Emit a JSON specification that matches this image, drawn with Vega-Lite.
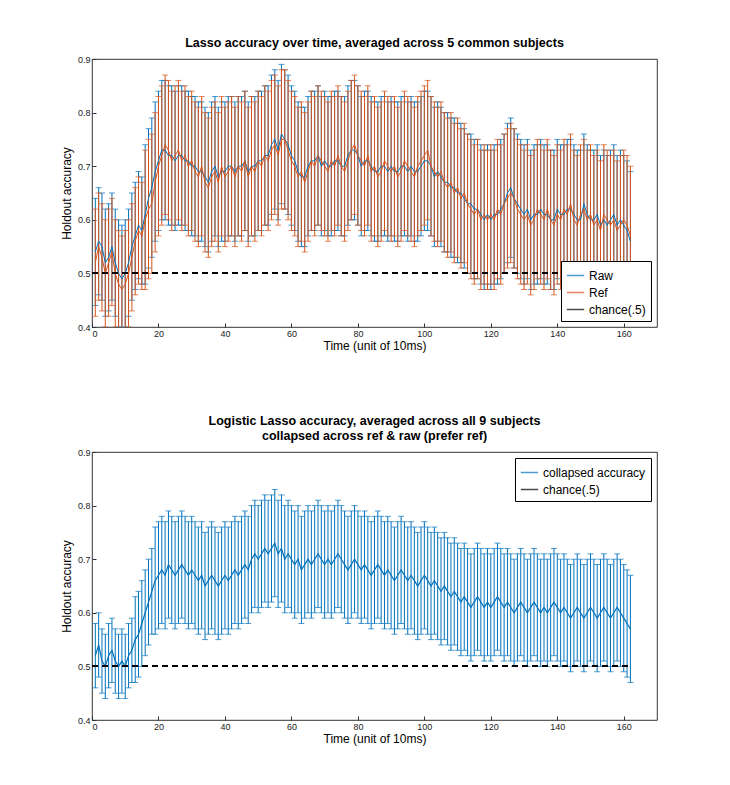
{
  "$schema": "https://vega.github.io/schema/vega-lite/v6.json",
  "padding": {"left": 60, "top": 36, "right": 5, "bottom": 5},
  "background": "white",
  "config": {
    "font": "Liberation Sans",
    "view": {"stroke": "black", "strokeWidth": 0.8},
    "axis": {"grid": false, "domain": false, "tickColor": "#333", "labelFontSize": 9, "titleFontSize": 12, "titleFontWeight": "normal", "labelColor": "#222", "tickSize": -4, "labelPadding": 6},
    "title": {"fontSize": 12.5, "fontWeight": "bold", "offset": 6},
    "legend": {"strokeColor": "black", "fillColor": "white", "padding": 5, "labelFontSize": 12, "symbolType": "stroke", "symbolSize": 300, "rowPadding": 1, "title": null, "offset": 6}
  },
  "spacing": 62,
  "datasets": {
    "acc": [
      {"t":1,"raw":0.54,"ref":0.52,"e":0.1,"c":0.52,"ce":0.06},
      {"t":2,"raw":0.56,"ref":0.55,"e":0.1,"c":0.54,"ce":0.06},
      {"t":3,"raw":0.55,"ref":0.53,"e":0.1,"c":0.51,"ce":0.06},
      {"t":4,"raw":0.52,"ref":0.50,"e":0.1,"c":0.50,"ce":0.06},
      {"t":5,"raw":0.53,"ref":0.52,"e":0.1,"c":0.52,"ce":0.06},
      {"t":6,"raw":0.55,"ref":0.54,"e":0.1,"c":0.53,"ce":0.06},
      {"t":7,"raw":0.52,"ref":0.50,"e":0.1,"c":0.51,"ce":0.06},
      {"t":8,"raw":0.50,"ref":0.48,"e":0.1,"c":0.50,"ce":0.06},
      {"t":9,"raw":0.49,"ref":0.47,"e":0.1,"c":0.51,"ce":0.06},
      {"t":10,"raw":0.50,"ref":0.48,"e":0.1,"c":0.50,"ce":0.06},
      {"t":11,"raw":0.52,"ref":0.50,"e":0.1,"c":0.52,"ce":0.06},
      {"t":12,"raw":0.55,"ref":0.53,"e":0.1,"c":0.53,"ce":0.06},
      {"t":13,"raw":0.57,"ref":0.56,"e":0.1,"c":0.55,"ce":0.08},
      {"t":14,"raw":0.59,"ref":0.58,"e":0.1,"c":0.56,"ce":0.08},
      {"t":15,"raw":0.58,"ref":0.57,"e":0.1,"c":0.58,"ce":0.08},
      {"t":16,"raw":0.61,"ref":0.60,"e":0.13,"c":0.60,"ce":0.08},
      {"t":17,"raw":0.64,"ref":0.62,"e":0.13,"c":0.62,"ce":0.08},
      {"t":18,"raw":0.66,"ref":0.63,"e":0.13,"c":0.64,"ce":0.08},
      {"t":19,"raw":0.69,"ref":0.67,"e":0.13,"c":0.66,"ce":0.1},
      {"t":20,"raw":0.71,"ref":0.70,"e":0.13,"c":0.67,"ce":0.1},
      {"t":21,"raw":0.73,"ref":0.72,"e":0.13,"c":0.68,"ce":0.1},
      {"t":22,"raw":0.73,"ref":0.74,"e":0.13,"c":0.67,"ce":0.1},
      {"t":23,"raw":0.72,"ref":0.73,"e":0.13,"c":0.69,"ce":0.1},
      {"t":24,"raw":0.72,"ref":0.71,"e":0.13,"c":0.68,"ce":0.1},
      {"t":25,"raw":0.71,"ref":0.72,"e":0.13,"c":0.67,"ce":0.1},
      {"t":26,"raw":0.72,"ref":0.73,"e":0.13,"c":0.68,"ce":0.1},
      {"t":27,"raw":0.72,"ref":0.71,"e":0.13,"c":0.69,"ce":0.1},
      {"t":28,"raw":0.71,"ref":0.72,"e":0.13,"c":0.68,"ce":0.1},
      {"t":29,"raw":0.71,"ref":0.70,"e":0.13,"c":0.67,"ce":0.1},
      {"t":30,"raw":0.70,"ref":0.71,"e":0.13,"c":0.68,"ce":0.1},
      {"t":31,"raw":0.70,"ref":0.69,"e":0.13,"c":0.67,"ce":0.1},
      {"t":32,"raw":0.69,"ref":0.68,"e":0.13,"c":0.66,"ce":0.1},
      {"t":33,"raw":0.69,"ref":0.70,"e":0.13,"c":0.67,"ce":0.1},
      {"t":34,"raw":0.68,"ref":0.67,"e":0.13,"c":0.65,"ce":0.1},
      {"t":35,"raw":0.67,"ref":0.66,"e":0.13,"c":0.66,"ce":0.1},
      {"t":36,"raw":0.69,"ref":0.68,"e":0.13,"c":0.67,"ce":0.1},
      {"t":37,"raw":0.70,"ref":0.69,"e":0.13,"c":0.66,"ce":0.1},
      {"t":38,"raw":0.68,"ref":0.67,"e":0.13,"c":0.65,"ce":0.1},
      {"t":39,"raw":0.69,"ref":0.70,"e":0.13,"c":0.66,"ce":0.1},
      {"t":40,"raw":0.69,"ref":0.68,"e":0.13,"c":0.67,"ce":0.1},
      {"t":41,"raw":0.70,"ref":0.69,"e":0.13,"c":0.66,"ce":0.1},
      {"t":42,"raw":0.70,"ref":0.70,"e":0.13,"c":0.67,"ce":0.1},
      {"t":43,"raw":0.69,"ref":0.68,"e":0.13,"c":0.68,"ce":0.1},
      {"t":44,"raw":0.70,"ref":0.70,"e":0.13,"c":0.67,"ce":0.1},
      {"t":45,"raw":0.70,"ref":0.69,"e":0.13,"c":0.68,"ce":0.1},
      {"t":46,"raw":0.71,"ref":0.71,"e":0.13,"c":0.69,"ce":0.1},
      {"t":47,"raw":0.69,"ref":0.68,"e":0.13,"c":0.68,"ce":0.1},
      {"t":48,"raw":0.70,"ref":0.70,"e":0.13,"c":0.70,"ce":0.1},
      {"t":49,"raw":0.70,"ref":0.69,"e":0.13,"c":0.71,"ce":0.1},
      {"t":50,"raw":0.71,"ref":0.71,"e":0.13,"c":0.70,"ce":0.1},
      {"t":51,"raw":0.71,"ref":0.70,"e":0.13,"c":0.71,"ce":0.1},
      {"t":52,"raw":0.72,"ref":0.72,"e":0.13,"c":0.72,"ce":0.1},
      {"t":53,"raw":0.72,"ref":0.71,"e":0.13,"c":0.71,"ce":0.1},
      {"t":54,"raw":0.74,"ref":0.73,"e":0.13,"c":0.72,"ce":0.1},
      {"t":55,"raw":0.75,"ref":0.74,"e":0.13,"c":0.73,"ce":0.1},
      {"t":56,"raw":0.73,"ref":0.72,"e":0.13,"c":0.71,"ce":0.1},
      {"t":57,"raw":0.76,"ref":0.75,"e":0.13,"c":0.72,"ce":0.1},
      {"t":58,"raw":0.75,"ref":0.75,"e":0.13,"c":0.70,"ce":0.1},
      {"t":59,"raw":0.74,"ref":0.73,"e":0.13,"c":0.71,"ce":0.1},
      {"t":60,"raw":0.72,"ref":0.71,"e":0.13,"c":0.70,"ce":0.1},
      {"t":61,"raw":0.71,"ref":0.70,"e":0.13,"c":0.69,"ce":0.1},
      {"t":62,"raw":0.69,"ref":0.68,"e":0.13,"c":0.70,"ce":0.1},
      {"t":63,"raw":0.68,"ref":0.69,"e":0.13,"c":0.68,"ce":0.1},
      {"t":64,"raw":0.68,"ref":0.67,"e":0.13,"c":0.69,"ce":0.1},
      {"t":65,"raw":0.70,"ref":0.69,"e":0.13,"c":0.70,"ce":0.1},
      {"t":66,"raw":0.71,"ref":0.71,"e":0.13,"c":0.69,"ce":0.1},
      {"t":67,"raw":0.71,"ref":0.70,"e":0.13,"c":0.70,"ce":0.1},
      {"t":68,"raw":0.72,"ref":0.72,"e":0.13,"c":0.71,"ce":0.1},
      {"t":69,"raw":0.70,"ref":0.71,"e":0.13,"c":0.70,"ce":0.1},
      {"t":70,"raw":0.71,"ref":0.70,"e":0.13,"c":0.69,"ce":0.1},
      {"t":71,"raw":0.70,"ref":0.69,"e":0.13,"c":0.70,"ce":0.1},
      {"t":72,"raw":0.70,"ref":0.71,"e":0.13,"c":0.69,"ce":0.1},
      {"t":73,"raw":0.71,"ref":0.70,"e":0.13,"c":0.70,"ce":0.1},
      {"t":74,"raw":0.71,"ref":0.72,"e":0.13,"c":0.71,"ce":0.1},
      {"t":75,"raw":0.70,"ref":0.70,"e":0.13,"c":0.70,"ce":0.1},
      {"t":76,"raw":0.70,"ref":0.69,"e":0.13,"c":0.69,"ce":0.1},
      {"t":77,"raw":0.72,"ref":0.71,"e":0.13,"c":0.68,"ce":0.1},
      {"t":78,"raw":0.73,"ref":0.73,"e":0.13,"c":0.69,"ce":0.1},
      {"t":79,"raw":0.73,"ref":0.74,"e":0.13,"c":0.70,"ce":0.1},
      {"t":80,"raw":0.72,"ref":0.72,"e":0.13,"c":0.69,"ce":0.1},
      {"t":81,"raw":0.70,"ref":0.71,"e":0.13,"c":0.68,"ce":0.1},
      {"t":82,"raw":0.71,"ref":0.70,"e":0.13,"c":0.69,"ce":0.1},
      {"t":83,"raw":0.71,"ref":0.72,"e":0.13,"c":0.68,"ce":0.1},
      {"t":84,"raw":0.70,"ref":0.69,"e":0.13,"c":0.67,"ce":0.1},
      {"t":85,"raw":0.69,"ref":0.70,"e":0.13,"c":0.68,"ce":0.1},
      {"t":86,"raw":0.69,"ref":0.68,"e":0.13,"c":0.69,"ce":0.1},
      {"t":87,"raw":0.70,"ref":0.69,"e":0.13,"c":0.68,"ce":0.1},
      {"t":88,"raw":0.70,"ref":0.71,"e":0.13,"c":0.67,"ce":0.1},
      {"t":89,"raw":0.69,"ref":0.70,"e":0.13,"c":0.68,"ce":0.1},
      {"t":90,"raw":0.70,"ref":0.69,"e":0.13,"c":0.67,"ce":0.1},
      {"t":91,"raw":0.69,"ref":0.70,"e":0.13,"c":0.66,"ce":0.1},
      {"t":92,"raw":0.69,"ref":0.68,"e":0.13,"c":0.67,"ce":0.1},
      {"t":93,"raw":0.70,"ref":0.69,"e":0.13,"c":0.68,"ce":0.1},
      {"t":94,"raw":0.70,"ref":0.71,"e":0.13,"c":0.67,"ce":0.1},
      {"t":95,"raw":0.69,"ref":0.70,"e":0.13,"c":0.66,"ce":0.1},
      {"t":96,"raw":0.70,"ref":0.69,"e":0.13,"c":0.67,"ce":0.1},
      {"t":97,"raw":0.69,"ref":0.68,"e":0.13,"c":0.66,"ce":0.1},
      {"t":98,"raw":0.69,"ref":0.70,"e":0.13,"c":0.65,"ce":0.1},
      {"t":99,"raw":0.70,"ref":0.71,"e":0.13,"c":0.66,"ce":0.1},
      {"t":100,"raw":0.71,"ref":0.72,"e":0.13,"c":0.67,"ce":0.1},
      {"t":101,"raw":0.71,"ref":0.73,"e":0.13,"c":0.66,"ce":0.1},
      {"t":102,"raw":0.70,"ref":0.70,"e":0.13,"c":0.65,"ce":0.1},
      {"t":103,"raw":0.68,"ref":0.69,"e":0.13,"c":0.66,"ce":0.1},
      {"t":104,"raw":0.69,"ref":0.68,"e":0.13,"c":0.65,"ce":0.1},
      {"t":105,"raw":0.68,"ref":0.69,"e":0.13,"c":0.64,"ce":0.1},
      {"t":106,"raw":0.67,"ref":0.67,"e":0.13,"c":0.65,"ce":0.1},
      {"t":107,"raw":0.67,"ref":0.66,"e":0.13,"c":0.64,"ce":0.1},
      {"t":108,"raw":0.66,"ref":0.67,"e":0.13,"c":0.63,"ce":0.1},
      {"t":109,"raw":0.66,"ref":0.65,"e":0.13,"c":0.64,"ce":0.1},
      {"t":110,"raw":0.65,"ref":0.66,"e":0.13,"c":0.63,"ce":0.1},
      {"t":111,"raw":0.65,"ref":0.64,"e":0.13,"c":0.62,"ce":0.1},
      {"t":112,"raw":0.64,"ref":0.65,"e":0.13,"c":0.63,"ce":0.1},
      {"t":113,"raw":0.63,"ref":0.63,"e":0.13,"c":0.62,"ce":0.1},
      {"t":114,"raw":0.63,"ref":0.62,"e":0.13,"c":0.61,"ce":0.1},
      {"t":115,"raw":0.62,"ref":0.61,"e":0.13,"c":0.62,"ce":0.1},
      {"t":116,"raw":0.62,"ref":0.62,"e":0.13,"c":0.63,"ce":0.1},
      {"t":117,"raw":0.61,"ref":0.60,"e":0.13,"c":0.62,"ce":0.1},
      {"t":118,"raw":0.60,"ref":0.61,"e":0.13,"c":0.61,"ce":0.1},
      {"t":119,"raw":0.61,"ref":0.60,"e":0.13,"c":0.62,"ce":0.1},
      {"t":120,"raw":0.60,"ref":0.61,"e":0.13,"c":0.61,"ce":0.1},
      {"t":121,"raw":0.61,"ref":0.60,"e":0.13,"c":0.62,"ce":0.1},
      {"t":122,"raw":0.61,"ref":0.62,"e":0.13,"c":0.63,"ce":0.1},
      {"t":123,"raw":0.62,"ref":0.61,"e":0.13,"c":0.62,"ce":0.1},
      {"t":124,"raw":0.63,"ref":0.63,"e":0.13,"c":0.61,"ce":0.1},
      {"t":125,"raw":0.65,"ref":0.64,"e":0.13,"c":0.62,"ce":0.1},
      {"t":126,"raw":0.66,"ref":0.65,"e":0.13,"c":0.61,"ce":0.1},
      {"t":127,"raw":0.64,"ref":0.64,"e":0.13,"c":0.60,"ce":0.1},
      {"t":128,"raw":0.63,"ref":0.62,"e":0.13,"c":0.61,"ce":0.1},
      {"t":129,"raw":0.62,"ref":0.61,"e":0.13,"c":0.62,"ce":0.1},
      {"t":130,"raw":0.61,"ref":0.60,"e":0.13,"c":0.61,"ce":0.1},
      {"t":131,"raw":0.62,"ref":0.61,"e":0.13,"c":0.60,"ce":0.1},
      {"t":132,"raw":0.60,"ref":0.59,"e":0.13,"c":0.61,"ce":0.1},
      {"t":133,"raw":0.61,"ref":0.60,"e":0.13,"c":0.62,"ce":0.1},
      {"t":134,"raw":0.61,"ref":0.62,"e":0.13,"c":0.61,"ce":0.1},
      {"t":135,"raw":0.62,"ref":0.61,"e":0.13,"c":0.60,"ce":0.1},
      {"t":136,"raw":0.61,"ref":0.60,"e":0.13,"c":0.61,"ce":0.1},
      {"t":137,"raw":0.61,"ref":0.62,"e":0.13,"c":0.60,"ce":0.1},
      {"t":138,"raw":0.60,"ref":0.60,"e":0.13,"c":0.61,"ce":0.1},
      {"t":139,"raw":0.60,"ref":0.59,"e":0.13,"c":0.62,"ce":0.1},
      {"t":140,"raw":0.62,"ref":0.61,"e":0.13,"c":0.61,"ce":0.1},
      {"t":141,"raw":0.61,"ref":0.60,"e":0.13,"c":0.60,"ce":0.1},
      {"t":142,"raw":0.61,"ref":0.62,"e":0.13,"c":0.61,"ce":0.1},
      {"t":143,"raw":0.62,"ref":0.61,"e":0.13,"c":0.60,"ce":0.1},
      {"t":144,"raw":0.62,"ref":0.63,"e":0.13,"c":0.59,"ce":0.1},
      {"t":145,"raw":0.61,"ref":0.60,"e":0.13,"c":0.60,"ce":0.1},
      {"t":146,"raw":0.60,"ref":0.59,"e":0.13,"c":0.61,"ce":0.1},
      {"t":147,"raw":0.60,"ref":0.61,"e":0.13,"c":0.60,"ce":0.1},
      {"t":148,"raw":0.63,"ref":0.62,"e":0.13,"c":0.59,"ce":0.1},
      {"t":149,"raw":0.61,"ref":0.60,"e":0.13,"c":0.60,"ce":0.1},
      {"t":150,"raw":0.60,"ref":0.61,"e":0.13,"c":0.61,"ce":0.1},
      {"t":151,"raw":0.60,"ref":0.59,"e":0.13,"c":0.60,"ce":0.1},
      {"t":152,"raw":0.61,"ref":0.60,"e":0.13,"c":0.59,"ce":0.1},
      {"t":153,"raw":0.59,"ref":0.58,"e":0.13,"c":0.60,"ce":0.1},
      {"t":154,"raw":0.60,"ref":0.61,"e":0.13,"c":0.61,"ce":0.1},
      {"t":155,"raw":0.59,"ref":0.60,"e":0.13,"c":0.60,"ce":0.1},
      {"t":156,"raw":0.60,"ref":0.59,"e":0.13,"c":0.59,"ce":0.1},
      {"t":157,"raw":0.61,"ref":0.60,"e":0.13,"c":0.60,"ce":0.1},
      {"t":158,"raw":0.59,"ref":0.58,"e":0.13,"c":0.61,"ce":0.1},
      {"t":159,"raw":0.60,"ref":0.59,"e":0.13,"c":0.60,"ce":0.1},
      {"t":160,"raw":0.59,"ref":0.60,"e":0.13,"c":0.59,"ce":0.1},
      {"t":161,"raw":0.58,"ref":0.59,"e":0.13,"c":0.58,"ce":0.1},
      {"t":162,"raw":0.56,"ref":0.57,"e":0.13,"c":0.57,"ce":0.1}
    ]
  },
  "vconcat": [
    {
      "title": "Lasso accuracy over time, averaged across 5 common subjects",
      "width": 565,
      "height": 268,
      "data": {"name": "acc"},
      "encoding": {
        "x": {"field": "t", "type": "quantitative", "scale": {"domain": [0, 170], "nice": false}, "axis": {"values": [0, 20, 40, 60, 80, 100, 120, 140, 160], "title": "Time (unit of 10ms)", "titlePadding": 2}}
      },
      "layer": [
        {
          "mark": {"type": "errorbar", "ticks": {"size": 6}, "clip": true, "thickness": 1},
          "encoding": {
            "y": {"field": "raw", "type": "quantitative", "title": "Holdout accuracy", "scale": {"domain": [0.4, 0.9], "nice": false}, "axis": {"values": [0.4, 0.45, 0.5, 0.55, 0.6, 0.65, 0.7, 0.75, 0.8, 0.85, 0.9], "title": "Holdout accuracy", "titlePadding": 4}},
            "yError": {"field": "e"},
            "color": {"datum": "Raw", "scale": {"domain": ["Raw", "Ref", "chance(.5)"], "range": ["#0072BD", "#D95319", "#000000"]}, "legend": {"orient": "bottom-right"}}
          }
        },
        {
          "mark": {"type": "errorbar", "ticks": {"size": 6}, "clip": true, "thickness": 1},
          "encoding": {
            "y": {"field": "ref", "type": "quantitative", "title": "Holdout accuracy"},
            "yError": {"field": "e"},
            "color": {"datum": "Ref"}
          }
        },
        {
          "mark": {"type": "line", "strokeWidth": 1},
          "encoding": {"y": {"field": "raw", "type": "quantitative", "title": "Holdout accuracy"}, "color": {"datum": "Raw"}}
        },
        {
          "mark": {"type": "line", "strokeWidth": 1},
          "encoding": {"y": {"field": "ref", "type": "quantitative", "title": "Holdout accuracy"}, "color": {"datum": "Ref"}}
        },
        {
          "mark": {"type": "rule", "strokeDash": [6, 4], "strokeWidth": 1},
          "encoding": {"x": {"datum": 0}, "x2": {"datum": 162}, "y": {"datum": 0.5}, "color": {"datum": "chance(.5)"}}
        }
      ]
    },
    {
      "title": {"text": ["Logistic Lasso accuracy, averaged across all 9 subjects", "collapsed across ref & raw (prefer ref)"]},
      "width": 565,
      "height": 268,
      "data": {"name": "acc"},
      "encoding": {
        "x": {"field": "t", "type": "quantitative", "scale": {"domain": [0, 170], "nice": false}, "axis": {"values": [0, 20, 40, 60, 80, 100, 120, 140, 160], "title": "Time (unit of 10ms)", "titlePadding": 2}}
      },
      "layer": [
        {
          "mark": {"type": "errorbar", "ticks": {"size": 6}, "clip": true, "thickness": 1},
          "encoding": {
            "y": {"field": "c", "type": "quantitative", "title": "Holdout accuracy", "scale": {"domain": [0.4, 0.9], "nice": false}, "axis": {"values": [0.4, 0.45, 0.5, 0.55, 0.6, 0.65, 0.7, 0.75, 0.8, 0.85, 0.9], "title": "Holdout accuracy", "titlePadding": 4}},
            "yError": {"field": "ce"},
            "color": {"datum": "collapsed accuracy", "scale": {"domain": ["collapsed accuracy", "chance(.5)"], "range": ["#0072BD", "#000000"]}, "legend": {"orient": "top-right"}}
          }
        },
        {
          "mark": {"type": "line", "strokeWidth": 1.2},
          "encoding": {"y": {"field": "c", "type": "quantitative", "title": "Holdout accuracy"}, "color": {"datum": "collapsed accuracy"}}
        },
        {
          "mark": {"type": "rule", "strokeDash": [6, 4], "strokeWidth": 1},
          "encoding": {"x": {"datum": 0}, "x2": {"datum": 162}, "y": {"datum": 0.5}, "color": {"datum": "chance(.5)"}}
        }
      ]
    }
  ],
  "resolve": {"scale": {"color": "independent"}, "legend": {"color": "independent"}}
}
